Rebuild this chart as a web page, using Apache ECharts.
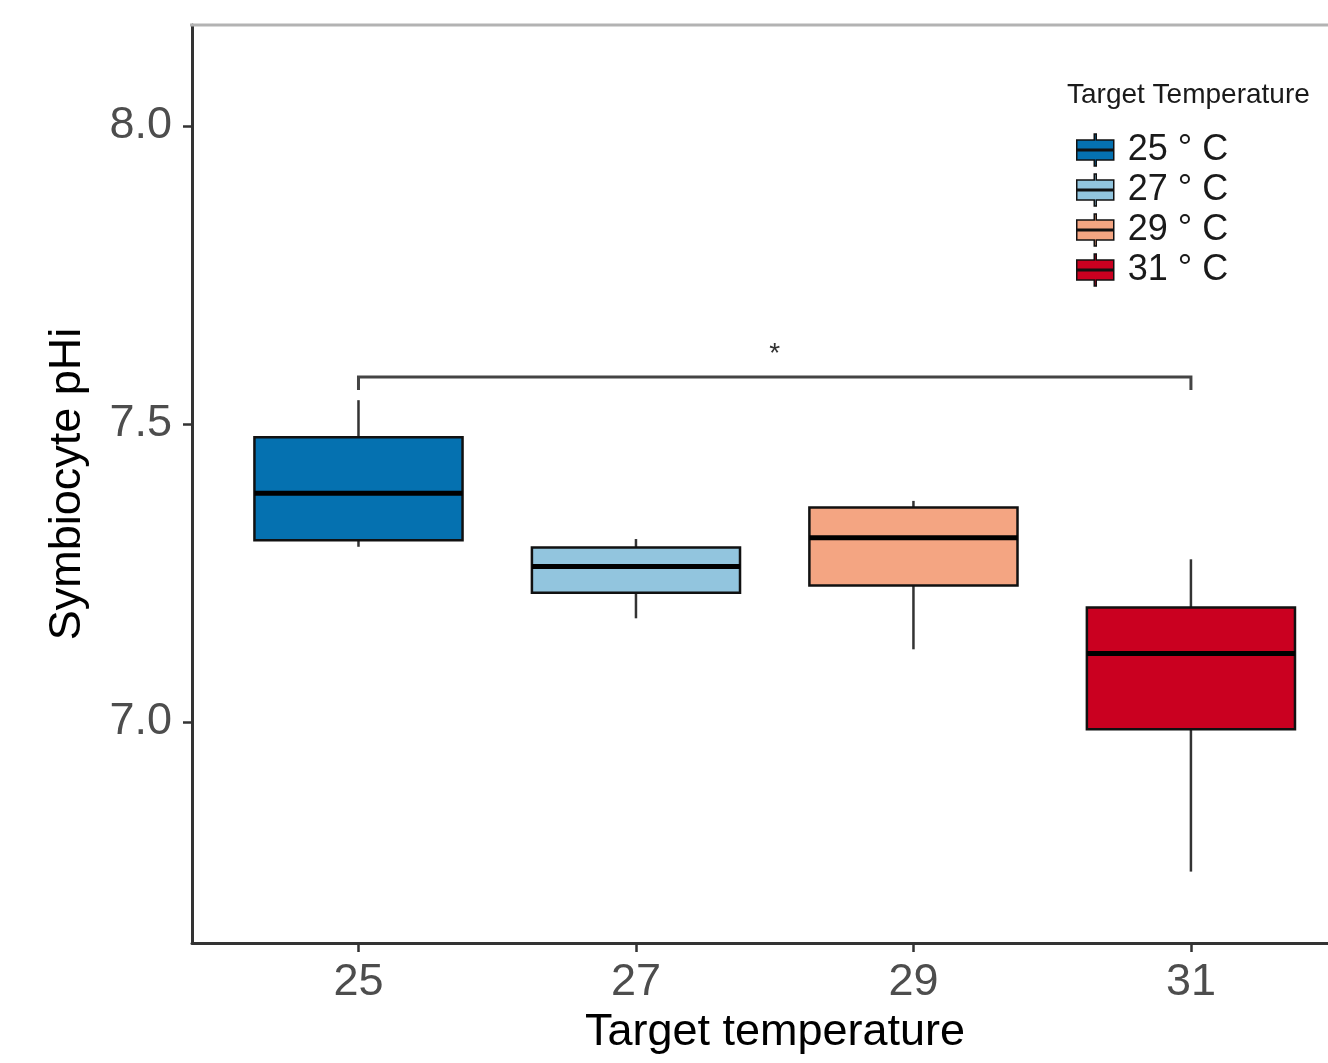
<!DOCTYPE html>
<html>
<head>
<meta charset="utf-8">
<script src="https://cdn.jsdelivr.net/npm/echarts@6/dist/echarts.min.js"></script>
<style>
html,body{margin:0;padding:0;background:#fff;}
#chart{width:1328px;height:1063px;}
</style>
</head>
<body>
<div id="chart"></div>
<script>
// ---- data ----
const categories = ['25', '27', '29', '31'];
const legendNames = ['25 ° C', '27 ° C', '29 ° C', '31 ° C'];
const lowWhisker = [7.294, 7.174, 7.122, 6.749];
const q1Values = [7.305, 7.217, 7.229, 6.988];
const medianValues = [7.384, 7.261, 7.309, 7.115];
const q3Values = [7.478, 7.293, 7.360, 7.192];
const highWhisker = [7.540, 7.307, 7.371, 7.273];
const boxColors = ['#0571b0', '#92c5de', '#f4a582', '#ca0020'];
const yTicks = [7.0, 7.5, 8.0];
const bracketFromTo = [1, 4];
const bracketLevels = [7.579, 7.557];
const bracketLabel = '*';

const FONT = '"Liberation Sans", Arial, sans-serif';
const chart = echarts.init(document.getElementById('chart'));

function renderBox(params, api) {
  const x = api.value(0);
  const lo = api.value(1), q1 = api.value(2), md = api.value(3), q3 = api.value(4), hi = api.value(5);
  const half = 0.375;
  const tl = api.coord([x - half, q3]);
  const br = api.coord([x + half, q1]);
  const hiP = api.coord([x, hi]);
  const loP = api.coord([x, lo]);
  const q3P = api.coord([x, q3]);
  const q1P = api.coord([x, q1]);
  const mL = api.coord([x - half, md]);
  const mR = api.coord([x + half, md]);
  const color = api.visual('color');
  return {
    type: 'group',
    children: [
      { type: 'line', shape: { x1: hiP[0], y1: hiP[1], x2: q3P[0], y2: q3P[1] }, style: { stroke: '#333', lineWidth: 2.5 } },
      { type: 'line', shape: { x1: q1P[0], y1: q1P[1], x2: loP[0], y2: loP[1] }, style: { stroke: '#333', lineWidth: 2.5 } },
      { type: 'rect', shape: { x: tl[0], y: tl[1], width: br[0] - tl[0], height: br[1] - tl[1] }, style: { fill: color, stroke: '#111', lineWidth: 2.5 } },
      { type: 'line', shape: { x1: mL[0], y1: mL[1], x2: mR[0], y2: mR[1] }, style: { stroke: '#000', lineWidth: 5 } }
    ]
  };
}

function renderBracket(params, api) {
  const a = api.coord([api.value(0), api.value(2)]);
  const b = api.coord([api.value(1), api.value(2)]);
  const aT = api.coord([api.value(0), api.value(3)]);
  const bT = api.coord([api.value(1), api.value(3)]);
  return {
    type: 'group',
    children: [
      { type: 'polyline', shape: { points: [aT, a, b, bT] }, style: { stroke: '#444', lineWidth: 3, fill: null } },
      { type: 'text', style: { x: (a[0] + b[0]) / 2, y: a[1] - 9, text: bracketLabel, fill: '#333', font: '28px ' + FONT, align: 'center', verticalAlign: 'bottom' } }
    ]
  };
}

const boxSeries = categories.map((c, i) => ({
  name: legendNames[i],
  type: 'custom',
  renderItem: renderBox,
  itemStyle: { color: boxColors[i] },
  encode: { x: 0, y: [1, 2, 3, 4, 5] },
  data: [[i + 1, lowWhisker[i], q1Values[i], medianValues[i], q3Values[i], highWhisker[i]]],
  clip: false,
  z: 2
}));

const option = {
  animation: false,
  backgroundColor: '#fff',
  textStyle: { fontFamily: FONT },
  grid: { left: 192, top: 25, right: 0, height: 918, containLabel: false },
  title: {
    text: 'Target Temperature',
    left: 1062, top: 76,
    textStyle: { fontFamily: FONT, fontSize: 28, fontWeight: 'normal', color: '#1a1a1a' }
  },
  legend: {
    orient: 'vertical',
    left: 1071, top: 127,
    itemWidth: 37, itemHeight: 32, itemGap: 4,
    icon: 'path://M17.5,0 L19.5,0 L19.5,6 L37,6 L37,26 L19.5,26 L19.5,32 L17.5,32 L17.5,26 L0,26 L0,6 L17.5,6 Z M0,15.3 L37,15.3 L37,16.7 L0,16.7 Z',
    itemStyle: { borderColor: '#111', borderWidth: 1.5 },
    textStyle: { fontFamily: FONT, fontSize: 36, color: '#1a1a1a', padding: [0, 0, 0, 9] },
    data: legendNames
  },
  xAxis: {
    type: 'value',
    min: 0.4, max: 4.494,
    name: 'Target temperature',
    nameLocation: 'middle',
    nameGap: 66,
    nameTextStyle: { fontFamily: FONT, fontSize: 45, color: '#000', padding: [0, 0, 0, 30] },
    axisLine: { show: true, lineStyle: { color: '#333', width: 3 } },
    axisTick: { show: true, length: 9, lineStyle: { color: '#333', width: 2.5 }, customValues: [1, 2, 3, 4] },
    axisLabel: {
      fontFamily: FONT, fontSize: 45, color: '#4d4d4d', margin: 17,
      customValues: [1, 2, 3, 4],
      formatter: v => categories[Math.round(v) - 1]
    },
    splitLine: { show: false }
  },
  yAxis: {
    type: 'value',
    min: 6.6292, max: 8.1695,
    name: 'Symbiocyte pHi',
    nameLocation: 'middle',
    nameGap: 102,
    nameTextStyle: { fontFamily: FONT, fontSize: 45, color: '#000' },
    axisLine: { show: true, lineStyle: { color: '#333', width: 3 } },
    axisTick: { show: true, length: 9, lineStyle: { color: '#333', width: 2.5 }, customValues: yTicks },
    axisLabel: {
      fontFamily: FONT, fontSize: 45, color: '#4d4d4d', margin: 20,
      customValues: yTicks,
      formatter: v => v.toFixed(1)
    },
    splitLine: { show: false }
  },
  graphic: [
    { type: 'line', shape: { x1: 190, y1: 25, x2: 1328, y2: 25 }, style: { stroke: '#b3b3b3', lineWidth: 3 }, z: 10 }
  ],
  series: boxSeries.concat([{
    name: 'bracket',
    type: 'custom',
    renderItem: renderBracket,
    encode: { x: [0, 1], y: [2, 3] },
    data: [[bracketFromTo[0], bracketFromTo[1], bracketLevels[0], bracketLevels[1]]],
    clip: false,
    z: 3
  }])
};
chart.setOption(option);
</script>
</body>
</html>
